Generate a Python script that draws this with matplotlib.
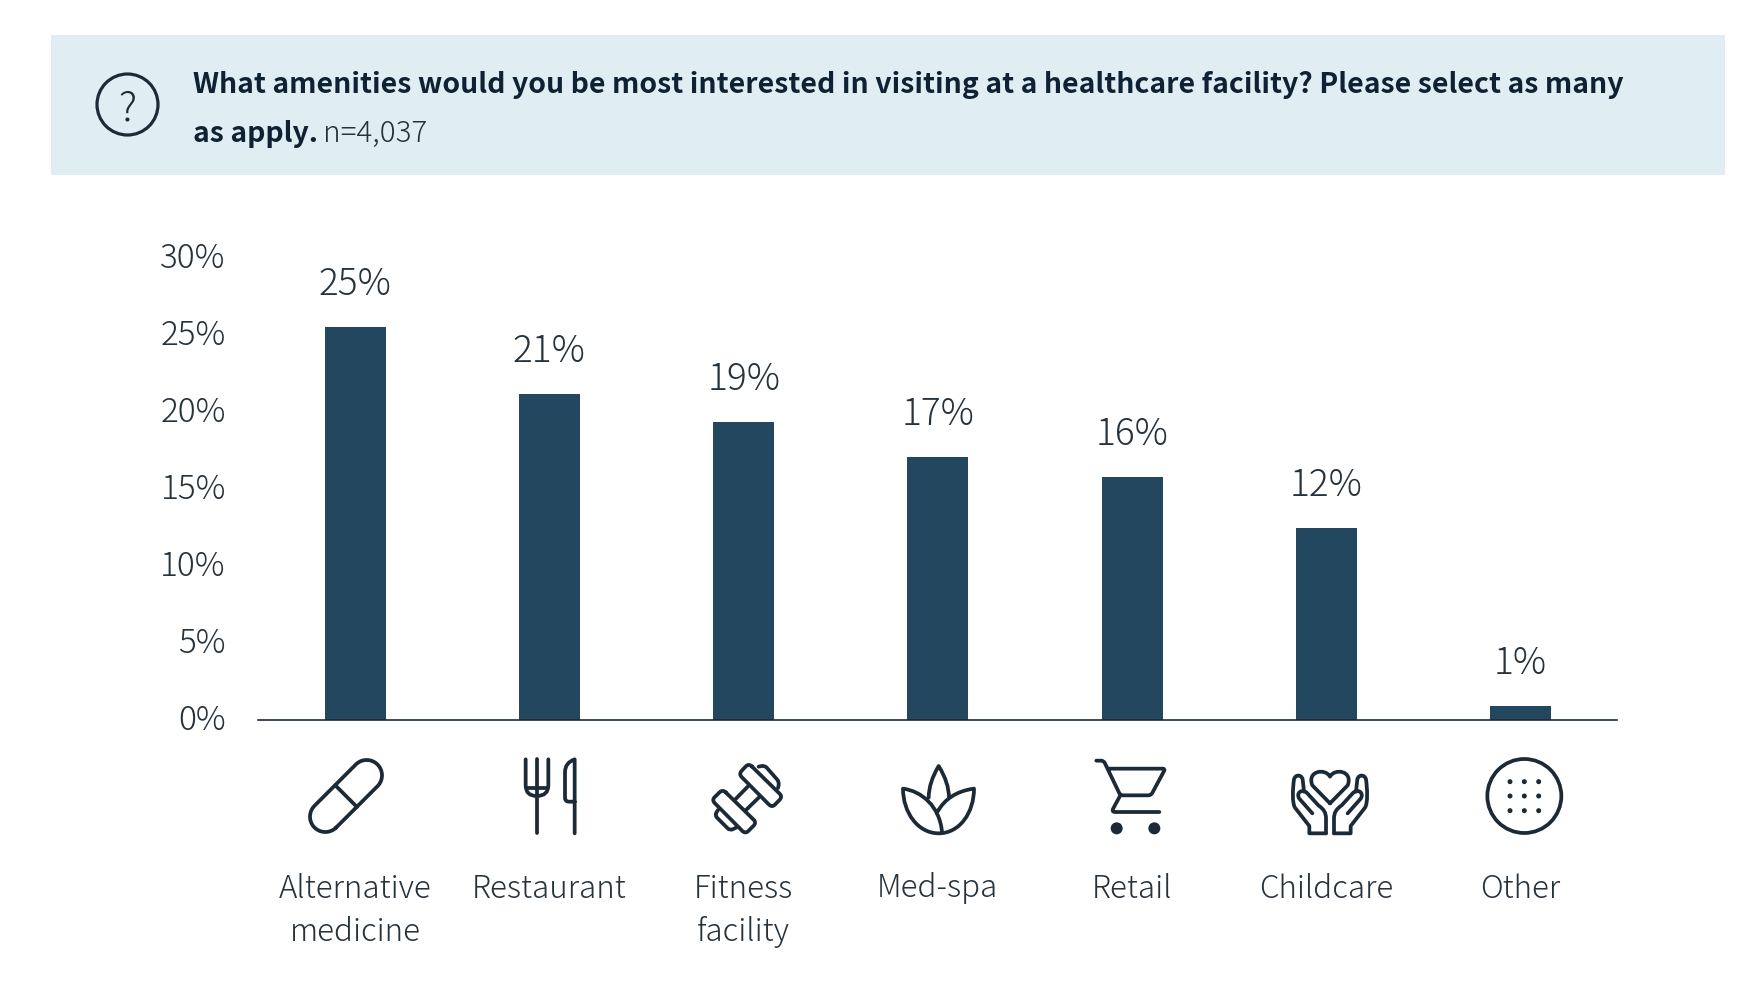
import numpy as np
import matplotlib
matplotlib.use("Agg")
import matplotlib.pyplot as plt
from matplotlib.path import Path
from matplotlib.patches import PathPatch, Circle, Rectangle
from matplotlib.transforms import ScaledTranslation

FONT = ["Noto Sans CJK JP", "DejaVu Sans"]
plt.rcParams["font.family"] = FONT

categories = ["Alternative\nmedicine", "Restaurant", "Fitness\nfacility", "Med-spa",
              "Retail", "Childcare", "Other"]
values = [25.5, 21.2, 19.35, 17.1, 15.8, 12.5, 0.9]
value_labels = ["25%", "21%", "19%", "17%", "16%", "12%", "1%"]
y_ticks = [0, 5, 10, 15, 20, 25, 30]

BAR = "#22475e"
INK = "#1b2a36"
TEXT = "#26323c"
W, H = 1760, 1002

M, L, C3, C4 = Path.MOVETO, Path.LINETO, Path.CURVE3, Path.CURVE4


def rounded(pts, r, closed=True):
    # polygon with corners rounded by quadratic curves
    pts = [np.array(p, float) for p in pts]
    n = len(pts)
    verts, codes = [], []
    for i in range(n):
        p = pts[i]
        if not closed and i in (0, n - 1):
            verts.append(p)
            codes.append(M if i == 0 else L)
            continue
        a, b = pts[i - 1], pts[(i + 1) % n]
        s = p + (a - p) / np.linalg.norm(a - p) * r
        e = p + (b - p) / np.linalg.norm(b - p) * r
        verts += [s, p, e]
        codes += [M if (closed and i == 0) else L, C3, C3]
    if closed:
        verts.append(verts[0])
        codes.append(L)
    return Path(verts, codes)


def capsule(c1, c2, r):
    c1, c2 = np.array(c1, float), np.array(c2, float)
    base = np.arctan2(*(c2 - c1)[::-1])
    t1 = np.linspace(base + np.pi / 2, base + 3 * np.pi / 2, 30)
    t2 = np.linspace(base - np.pi / 2, base + np.pi / 2, 30)
    arc = np.vstack([c1 + r * np.c_[np.cos(t1), np.sin(t1)],
                     c2 + r * np.c_[np.cos(t2), np.sin(t2)]])
    return Path(np.vstack([arc, arc[:1]]))


def draw(ax, origin, paths, lw=2.7):
    # icon paths are written in 3x crop units, origin is the crop corner in pixels
    for p in paths:
        v = p.vertices / 3.0 + origin
        ax.add_patch(PathPatch(Path(v, p.codes), fc="none", ec=INK, lw=lw,
                               capstyle="round", joinstyle="round"))


def dots(ax, origin, pts, r):
    for x, y in pts:
        ax.add_patch(Circle((origin[0] + x / 3.0, origin[1] + y / 3.0), r / 3.0, fc=INK, ec="none"))


fig = plt.figure(figsize=(W / 100, H / 100), dpi=100, facecolor="white")

# pixel layer for the banner and the icons
bg = fig.add_axes([0, 0, 1, 1])
bg.set_xlim(0, W)
bg.set_ylim(H, 0)
bg.axis("off")
bg.add_patch(Rectangle((51, 35), 1674, 140, fc="#e0edf2", ec="none"))
bg.add_patch(Circle((127.5, 104.5), 30.5, fc="none", ec=INK, lw=2.3))
bg.text(127.5, 120, "?", fontsize=29, fontweight=300, color=INK, ha="center", va="baseline")
bg.text(193, 93, "What amenities would you be most interested in visiting at a healthcare facility? Please select as many",
        fontsize=20.44, fontweight="bold", color="#0f2233", va="baseline")
bg.text(193, 142, "as apply.", fontsize=20.44, fontweight="bold", color="#0f2233", va="baseline")
bg.text(323, 142, "n=4,037", fontsize=21.3, fontweight=300, color=TEXT, va="baseline")

# chart
ax = fig.add_axes([258 / W, 1 - 720 / H, (1617 - 258) / W, 462 / H], facecolor="none")
x = np.arange(len(categories))
bars = ax.bar(x, values, width=0.314, color=BAR)
ax.set_xlim(-0.5005, 6.497)
ax.set_ylim(0, 30)
for s in ["top", "right", "left"]:
    ax.spines[s].set_visible(False)
ax.spines["bottom"].set_color(INK)
ax.spines["bottom"].set_linewidth(1.2)
ax.set_yticks(y_ticks, [f"{t}%" for t in y_ticks], fontsize=24, fontweight=300, color=TEXT)
ax.set_xticks(x, categories, fontsize=22.5, fontweight=300, color=TEXT, linespacing=1.445)
ax.tick_params(axis="y", length=0, pad=23.2)
ax.tick_params(axis="x", length=0, pad=109.8)
up = ScaledTranslation(0, 3 / 100, fig.dpi_scale_trans)
for t in ax.get_yticklabels():
    t.set_transform(t.get_transform() + up)
for xi, v, lab in zip(x, values, value_labels):
    ax.annotate(lab, (xi, v), xytext=(0, 22.9), textcoords="offset points", ha="center",
                va="baseline", fontsize=26.7, fontweight=300, color=TEXT)

# icons
o = (296, 746)
draw(bg, o, [capsule((88, 212), (212, 88), 46), Path([(118, 118), (183, 183)], [M, L])])

o = (500, 746)
draw(bg, o, [
    Path([(77, 40), (77, 118), (77, 150), (110, 150), (145, 150), (145, 118), (145, 40)],
         [M, L, C3, C3, C3, C3, L]),
    Path([(110, 40), (110, 262)], [M, L]),
    Path([(80, 127), (142, 127)], [M, L]),
    Path([(224, 262), (224, 40), (195, 50), (195, 78), (195, 155), (195, 167), (207, 167), (224, 167)],
         [M, L, C3, C3, L, C3, C3, L]),
])

o = (696, 746)
draw(bg, o, [
    rounded([(158, 52), (128, 84), (228, 185), (260, 152)], 13),
    rounded([(188, 62), (206, 58), (250, 108), (246, 126)], 10, closed=False),
    rounded([(80, 130), (47, 162), (148, 264), (182, 230)], 13),
    rounded([(66, 192), (56, 208), (102, 254), (122, 244)], 10, closed=False),
    Path([(155, 122), (118, 160)], [M, L]),
    Path([(188, 155), (150, 192)], [M, L]),
])

o = (888, 746)
draw(bg, o, [
    Path([(122, 155), (122, 110), (152, 60), (183, 110), (183, 155)], [M, C3, C3, C3, C3]),
    Path([(162, 258), (155, 180), (100, 135), (45, 128), (45, 200), (90, 262), (152, 262),
          (215, 262), (258, 200), (258, 128), (205, 135), (170, 160), (150, 195)],
         [M, C4, C4, C4, C4, C4, C4, C4, C4, C4, C4, C4, C4]),
])

o = (1082, 746)
draw(bg, o, [
    rounded([(43, 44), (65, 44), (115, 148), (207, 148), (250, 68), (80, 68)], 8, closed=False),
    rounded([(115, 148), (88, 198), (232, 198)], 12, closed=False),
])
dots(bg, o, [(104, 247), (217, 247)], 18)

o = (1280, 746)
heart = Path([(150, 172), (97, 118), (80, 75), (135, 65), (150, 92), (165, 65), (220, 75), (203, 118), (150, 172)],
             [M, L, C4, C4, C4, C4, C4, C4, L])
hand = [
    np.array([(138, 262), (88, 262), (88, 240), (45, 185), (36, 170), (38, 130), (42, 100),
              (46, 85), (64, 85), (68, 100), (72, 137)], float),
    np.array([(97, 202), (58, 158), (46, 140), (68, 126), (82, 142), (115, 178), (132, 190),
              (138, 200), (138, 218), (138, 262)], float),
]
hand_codes = [[M, L, L, L, C4, C4, C4, C4, C4, C4, L], [M, L, C4, C4, C4, L, C4, C4, C4, L]]
paths = [heart]
for v, cd in zip(hand, hand_codes):
    paths.append(Path(v, cd))
    m = v.copy()
    m[:, 0] = 300 - m[:, 0]
    paths.append(Path(m, cd))
draw(bg, o, paths)

o = (1474, 746)
draw(bg, o, [Path.circle((151, 150), 111)])
dots(bg, o, [(a, b) for a in (108, 151, 194) for b in (107, 150, 194)], 7.5)

fig.savefig("out.png", dpi=100)
